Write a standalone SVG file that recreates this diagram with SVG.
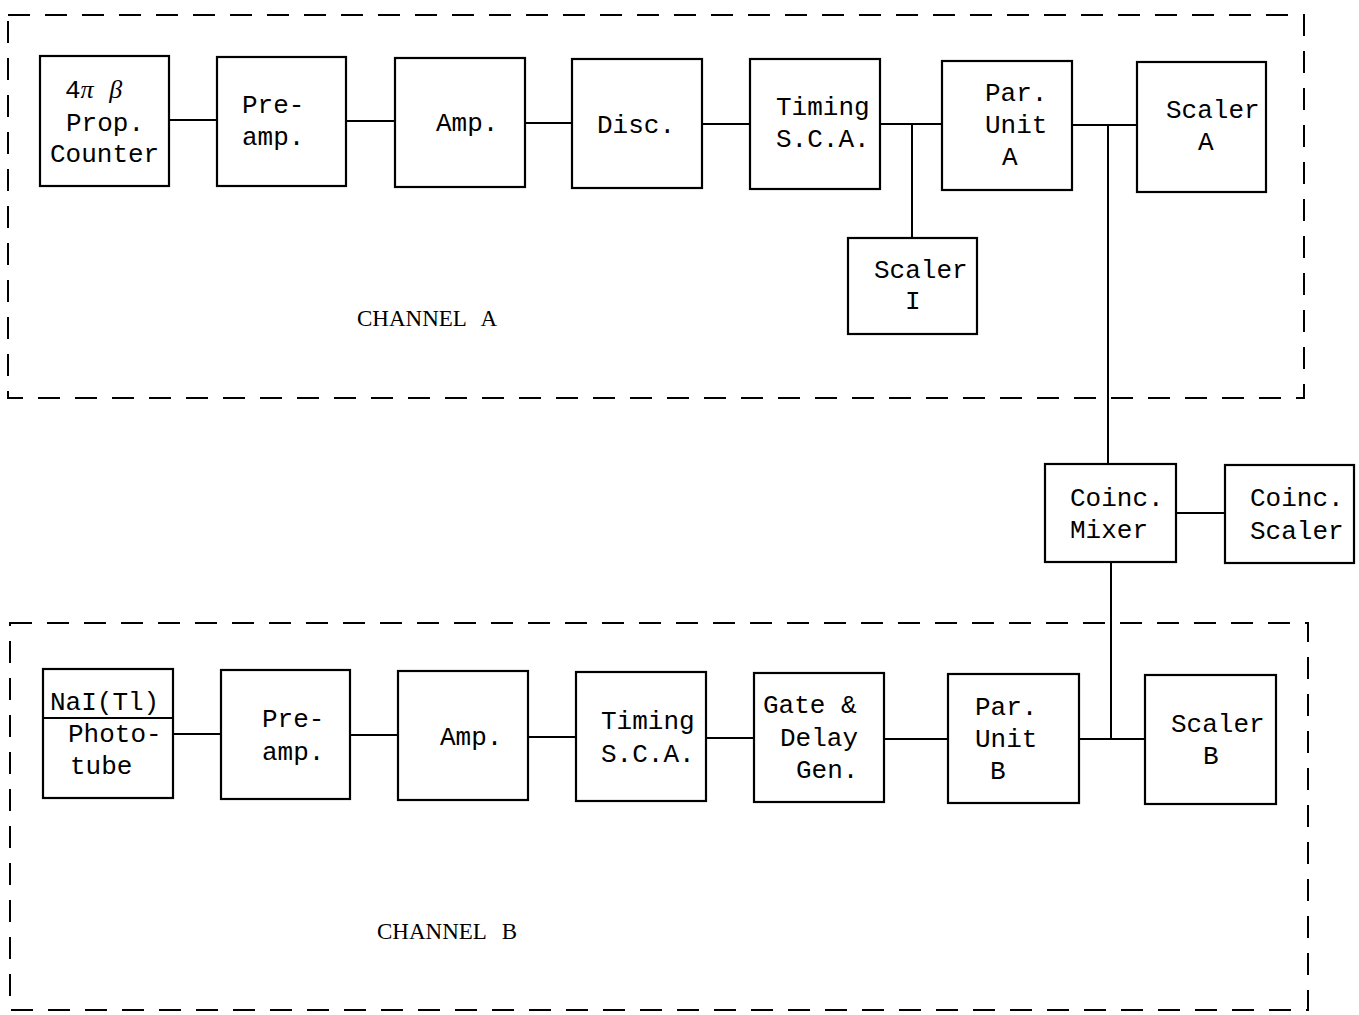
<svg xmlns="http://www.w3.org/2000/svg" width="1359" height="1015" viewBox="0 0 1359 1015">
<style>
.box{fill:#fff;stroke:#000;stroke-width:2.2}
.frame{fill:none;stroke:#000;stroke-width:2;stroke-dasharray:22 15}
.wire{fill:none;stroke:#000;stroke-width:2}
text{font-family:"Liberation Mono","DejaVu Sans Mono",monospace;font-size:26px;fill:#000}
.lab{font-family:"Liberation Serif","DejaVu Serif",serif;font-size:23px;word-spacing:10px}
.gr{font-family:"Liberation Serif","DejaVu Serif",serif;font-style:italic;font-size:26px}
</style>
<rect width="1359" height="1015" fill="#fff"/>
<g id="frames">
<rect class="frame" x="8" y="15" width="1296" height="383"/>
<rect class="frame" x="10" y="623" width="1298" height="387"/>
<text class="lab" x="357" y="326">CHANNEL A</text>
<text class="lab" x="377" y="939">CHANNEL B</text>
</g>
<g id="connectors">
<line class="wire" x1="169" y1="120" x2="217" y2="120"/>
<line class="wire" x1="346" y1="121" x2="395" y2="121"/>
<line class="wire" x1="525" y1="123" x2="572" y2="123"/>
<line class="wire" x1="702" y1="124" x2="750" y2="124"/>
<line class="wire" x1="880" y1="124" x2="942" y2="124"/>
<line class="wire" x1="912" y1="124" x2="912" y2="238"/>
<line class="wire" x1="1072" y1="125" x2="1137" y2="125"/>
<line class="wire" x1="1108" y1="125" x2="1108" y2="464"/>
<line class="wire" x1="1176" y1="513" x2="1225" y2="513"/>
<line class="wire" x1="1111" y1="562" x2="1111" y2="739"/>
<line class="wire" x1="173" y1="734" x2="221" y2="734"/>
<line class="wire" x1="350" y1="735" x2="398" y2="735"/>
<line class="wire" x1="528" y1="737" x2="576" y2="737"/>
<line class="wire" x1="706" y1="738" x2="754" y2="738"/>
<line class="wire" x1="884" y1="739" x2="948" y2="739"/>
<line class="wire" x1="1079" y1="739" x2="1145" y2="739"/>
</g>
<g id="counter">
<rect class="box" x="40" y="56" width="129" height="130"/>
<text x="65" y="98">4<tspan class="gr">π</tspan> <tspan class="gr">β</tspan></text>
<text x="66" y="131">Prop.</text>
<text x="50" y="162">Counter</text>
</g>
<g id="preampA">
<rect class="box" x="217" y="57" width="129" height="129"/>
<text x="242" y="113">Pre-</text>
<text x="242" y="145">amp.</text>
</g>
<g id="ampA">
<rect class="box" x="395" y="58" width="130" height="129"/>
<text x="436" y="131">Amp.</text>
</g>
<g id="disc">
<rect class="box" x="572" y="59" width="130" height="129"/>
<text x="597" y="133">Disc.</text>
</g>
<g id="timingA">
<rect class="box" x="750" y="59" width="130" height="130"/>
<text x="776" y="115">Timing</text>
<text x="776" y="147">S.C.A.</text>
</g>
<g id="parA">
<rect class="box" x="942" y="61" width="130" height="129"/>
<text x="985" y="101">Par.</text>
<text x="985" y="133">Unit</text>
<text x="1002" y="165">A</text>
</g>
<g id="scalerA">
<rect class="box" x="1137" y="62" width="129" height="130"/>
<text x="1166" y="118">Scaler</text>
<text x="1198" y="150">A</text>
</g>
<g id="scalerI">
<rect class="box" x="848" y="238" width="129" height="96"/>
<text x="874" y="278">Scaler</text>
<text x="905" y="309">I</text>
</g>
<g id="coincMixer">
<rect class="box" x="1045" y="464" width="131" height="98"/>
<text x="1070" y="506">Coinc.</text>
<text x="1070" y="538">Mixer</text>
</g>
<g id="coincScaler">
<rect class="box" x="1225" y="465" width="129" height="98"/>
<text x="1250" y="506">Coinc.</text>
<text x="1250" y="539">Scaler</text>
</g>
<g id="nai">
<rect class="box" x="43" y="669" width="130" height="129"/>
<line class="wire" x1="43" y1="718" x2="173" y2="718"/>
<text x="50" y="710">NaI(Tl)</text>
<text x="68" y="742">Photo-</text>
<text x="70" y="774">tube</text>
</g>
<g id="preampB">
<rect class="box" x="221" y="670" width="129" height="129"/>
<text x="262" y="727">Pre-</text>
<text x="262" y="760">amp.</text>
</g>
<g id="ampB">
<rect class="box" x="398" y="671" width="130" height="129"/>
<text x="440" y="745">Amp.</text>
</g>
<g id="timingB">
<rect class="box" x="576" y="672" width="130" height="129"/>
<text x="601" y="729">Timing</text>
<text x="601" y="762">S.C.A.</text>
</g>
<g id="gate">
<rect class="box" x="754" y="673" width="130" height="129"/>
<text x="763" y="713">Gate &amp;</text>
<text x="780" y="746">Delay</text>
<text x="796" y="778">Gen.</text>
</g>
<g id="parB">
<rect class="box" x="948" y="674" width="131" height="129"/>
<text x="975" y="715">Par.</text>
<text x="975" y="747">Unit</text>
<text x="990" y="779">B</text>
</g>
<g id="scalerB">
<rect class="box" x="1145" y="675" width="131" height="129"/>
<text x="1171" y="732">Scaler</text>
<text x="1203" y="764">B</text>
</g>
</svg>
